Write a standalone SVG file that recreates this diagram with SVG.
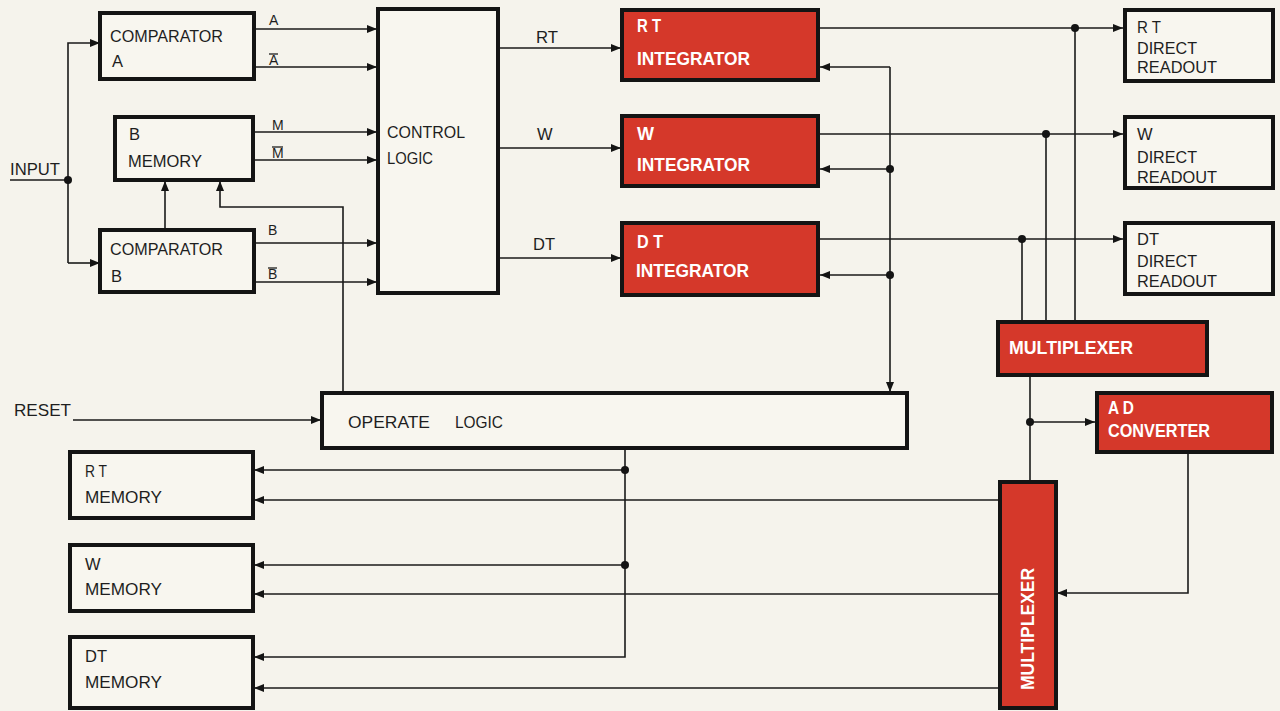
<svg xmlns="http://www.w3.org/2000/svg" width="1280" height="711" viewBox="0 0 1280 711">
<defs>
<style>
.box{fill:#f8f6ef;stroke:#141414;stroke-width:4}
.red{fill:#d5382a;stroke:#141414;stroke-width:4}
.ln{fill:none;stroke:#1a1a1a;stroke-width:1.6}
.t{font-family:"Liberation Sans",Arial,sans-serif;font-size:16.5px;fill:#1e1e1e}
.s{font-family:"Liberation Sans",Arial,sans-serif;font-size:14px;fill:#1e1e1e}
.w{font-family:"Liberation Sans",Arial,sans-serif;font-size:18px;font-weight:bold;fill:#ffffff}
.dot{fill:#141414}
</style>
<marker id="ah" markerWidth="10" markerHeight="8" refX="10" refY="4" orient="auto" markerUnits="userSpaceOnUse">
<path d="M0,0 L10,4 L0,8 Z" fill="#141414"/>
</marker>
</defs>
<rect width="1280" height="711" fill="#f5f3ec"/>

<g id="connectors">
<path class="ln" d="M10,180 H68"/>
<path class="ln" d="M68,263 V43 H100" marker-end="url(#ah)"/>
<path class="ln" d="M68,263 H100" marker-end="url(#ah)"/>
<circle class="dot" cx="68" cy="180" r="4"/>
<path class="ln" d="M254,29 H377" marker-end="url(#ah)"/>
<path class="ln" d="M254,67 H377" marker-end="url(#ah)"/>
<path class="ln" d="M253,132 H377" marker-end="url(#ah)"/>
<path class="ln" d="M253,160 H377" marker-end="url(#ah)"/>
<path class="ln" d="M254,243 H377" marker-end="url(#ah)"/>
<path class="ln" d="M254,282 H377" marker-end="url(#ah)"/>
<path class="ln" d="M165,230 V181" marker-end="url(#ah)"/>
<path class="ln" d="M343,393 V207 H220 V181" marker-end="url(#ah)"/>
<path class="ln" d="M498,48 H621" marker-end="url(#ah)"/>
<path class="ln" d="M498,148 H621" marker-end="url(#ah)"/>
<path class="ln" d="M498,258 H621" marker-end="url(#ah)"/>
<path class="ln" d="M820,28 H1123" marker-end="url(#ah)"/>
<path class="ln" d="M820,134 H1123" marker-end="url(#ah)"/>
<path class="ln" d="M820,239 H1123" marker-end="url(#ah)"/>
<path class="ln" d="M1075,28 V322"/>
<path class="ln" d="M1046,134 V322"/>
<path class="ln" d="M1022,239 V322"/>
<circle class="dot" cx="1075" cy="28" r="4"/>
<circle class="dot" cx="1046" cy="134" r="4"/>
<circle class="dot" cx="1022" cy="239" r="4"/>
<path class="ln" d="M890,67 H820" marker-end="url(#ah)"/>
<path class="ln" d="M890,169 H820" marker-end="url(#ah)"/>
<path class="ln" d="M890,275 H820" marker-end="url(#ah)"/>
<path class="ln" d="M890,67 V392" marker-end="url(#ah)"/>
<circle class="dot" cx="890" cy="169" r="4"/>
<circle class="dot" cx="890" cy="275" r="4"/>
<path class="ln" d="M73,420 H321" marker-end="url(#ah)"/>
<path class="ln" d="M1030,375 V482"/>
<path class="ln" d="M1030,422 H1095" marker-end="url(#ah)"/>
<circle class="dot" cx="1030" cy="422" r="4"/>
<path class="ln" d="M1188,452 V593 H1057" marker-end="url(#ah)"/>
<path class="ln" d="M625,448 V657 H254" marker-end="url(#ah)"/>
<path class="ln" d="M625,470 H254" marker-end="url(#ah)"/>
<path class="ln" d="M625,565 H254" marker-end="url(#ah)"/>
<circle class="dot" cx="625" cy="470" r="4"/>
<circle class="dot" cx="625" cy="565" r="4"/>
<path class="ln" d="M999,500 H254" marker-end="url(#ah)"/>
<path class="ln" d="M999,594 H254" marker-end="url(#ah)"/>
<path class="ln" d="M999,688 H254" marker-end="url(#ah)"/>
</g>

<g id="labels">
<text class="t" x="10" y="175" textLength="50" lengthAdjust="spacingAndGlyphs">INPUT</text>
<text class="t" x="14" y="416" textLength="57" lengthAdjust="spacingAndGlyphs">RESET</text>
<text class="s" x="269" y="25">A</text>
<text class="s" x="269" y="65">A</text>
<line x1="269" y1="54" x2="278" y2="54" stroke="#1e1e1e" stroke-width="1.3"/>
<text class="s" x="272" y="130">M</text>
<text class="s" x="272" y="158">M</text>
<line x1="272" y1="147" x2="283" y2="147" stroke="#1e1e1e" stroke-width="1.3"/>
<text class="s" x="268" y="235">B</text>
<text class="s" x="268" y="279">B</text>
<line x1="268" y1="268" x2="277" y2="268" stroke="#1e1e1e" stroke-width="1.3"/>
<text class="t" x="536" y="43" textLength="22" lengthAdjust="spacingAndGlyphs">RT</text>
<text class="t" x="537" y="140">W</text>
<text class="t" x="533" y="250" textLength="22" lengthAdjust="spacingAndGlyphs">DT</text>
</g>

<g id="comparator-a">
<rect class="box" x="100" y="13" width="154" height="66"/>
<text class="t" x="110" y="42" textLength="113" lengthAdjust="spacingAndGlyphs">COMPARATOR</text>
<text class="t" x="112" y="67">A</text>
</g>
<g id="b-memory">
<rect class="box" x="115" y="117" width="138" height="63"/>
<text class="t" x="129" y="140">B</text>
<text class="t" x="128" y="167" textLength="74" lengthAdjust="spacingAndGlyphs">MEMORY</text>
</g>
<g id="comparator-b">
<rect class="box" x="100" y="230" width="154" height="62"/>
<text class="t" x="110" y="255" textLength="113" lengthAdjust="spacingAndGlyphs">COMPARATOR</text>
<text class="t" x="111" y="282">B</text>
</g>
<g id="control-logic">
<rect class="box" x="378" y="9" width="120" height="284"/>
<text class="t" x="387" y="138" textLength="78" lengthAdjust="spacingAndGlyphs">CONTROL</text>
<text class="t" x="387" y="164" textLength="46" lengthAdjust="spacingAndGlyphs">LOGIC</text>
</g>
<g id="rt-integrator">
<rect class="red" x="622" y="10" width="196" height="70"/>
<text class="w" x="637" y="32" textLength="24" lengthAdjust="spacingAndGlyphs">R T</text>
<text class="w" x="637" y="65" textLength="113" lengthAdjust="spacingAndGlyphs">INTEGRATOR</text>
</g>
<g id="w-integrator">
<rect class="red" x="622" y="116" width="196" height="70"/>
<text class="w" x="637" y="140">W</text>
<text class="w" x="637" y="171" textLength="113" lengthAdjust="spacingAndGlyphs">INTEGRATOR</text>
</g>
<g id="dt-integrator">
<rect class="red" x="622" y="223" width="196" height="72"/>
<text class="w" x="637" y="248" textLength="26" lengthAdjust="spacingAndGlyphs">D T</text>
<text class="w" x="636" y="277" textLength="113" lengthAdjust="spacingAndGlyphs">INTEGRATOR</text>
</g>
<g id="rt-readout">
<rect class="box" x="1125" y="10" width="148" height="71"/>
<text class="t" x="1137" y="33" textLength="24" lengthAdjust="spacingAndGlyphs">R T</text>
<text class="t" x="1137" y="54" textLength="60" lengthAdjust="spacingAndGlyphs">DIRECT</text>
<text class="t" x="1137" y="73" textLength="80" lengthAdjust="spacingAndGlyphs">READOUT</text>
</g>
<g id="w-readout">
<rect class="box" x="1125" y="117" width="148" height="71"/>
<text class="t" x="1137" y="140">W</text>
<text class="t" x="1137" y="163" textLength="60" lengthAdjust="spacingAndGlyphs">DIRECT</text>
<text class="t" x="1137" y="183" textLength="80" lengthAdjust="spacingAndGlyphs">READOUT</text>
</g>
<g id="dt-readout">
<rect class="box" x="1125" y="223" width="148" height="71"/>
<text class="t" x="1137" y="245" textLength="22" lengthAdjust="spacingAndGlyphs">DT</text>
<text class="t" x="1137" y="267" textLength="60" lengthAdjust="spacingAndGlyphs">DIRECT</text>
<text class="t" x="1137" y="287" textLength="80" lengthAdjust="spacingAndGlyphs">READOUT</text>
</g>
<g id="multiplexer-top">
<rect class="red" x="998" y="322" width="209" height="53"/>
<text class="w" x="1009" y="354" textLength="124" lengthAdjust="spacingAndGlyphs">MULTIPLEXER</text>
</g>
<g id="ad-converter">
<rect class="red" x="1097" y="393" width="175" height="59"/>
<text class="w" x="1108" y="414" textLength="26" lengthAdjust="spacingAndGlyphs">A D</text>
<text class="w" x="1108" y="437" textLength="102" lengthAdjust="spacingAndGlyphs">CONVERTER</text>
</g>
<g id="operate-logic">
<rect class="box" x="322" y="393" width="585" height="55"/>
<text class="t" x="348" y="428" textLength="82" lengthAdjust="spacingAndGlyphs">OPERATE</text>
<text class="t" x="455" y="428" textLength="48" lengthAdjust="spacingAndGlyphs">LOGIC</text>
</g>
<g id="multiplexer-bottom">
<rect class="red" x="1000" y="482" width="56" height="226"/>
<text class="w" x="0" y="0" transform="translate(1034,690) rotate(-90)" textLength="122" lengthAdjust="spacingAndGlyphs">MULTIPLEXER</text>
</g>
<g id="rt-memory">
<rect class="box" x="70" y="452" width="183" height="66"/>
<text class="t" x="85" y="477" textLength="22" lengthAdjust="spacingAndGlyphs">R T</text>
<text class="t" x="85" y="503" textLength="77" lengthAdjust="spacingAndGlyphs">MEMORY</text>
</g>
<g id="w-memory">
<rect class="box" x="70" y="545" width="183" height="66"/>
<text class="t" x="85" y="570">W</text>
<text class="t" x="85" y="595" textLength="77" lengthAdjust="spacingAndGlyphs">MEMORY</text>
</g>
<g id="dt-memory">
<rect class="box" x="70" y="637" width="183" height="71"/>
<text class="t" x="85" y="662" textLength="22" lengthAdjust="spacingAndGlyphs">DT</text>
<text class="t" x="85" y="688" textLength="77" lengthAdjust="spacingAndGlyphs">MEMORY</text>
</g>
</svg>
